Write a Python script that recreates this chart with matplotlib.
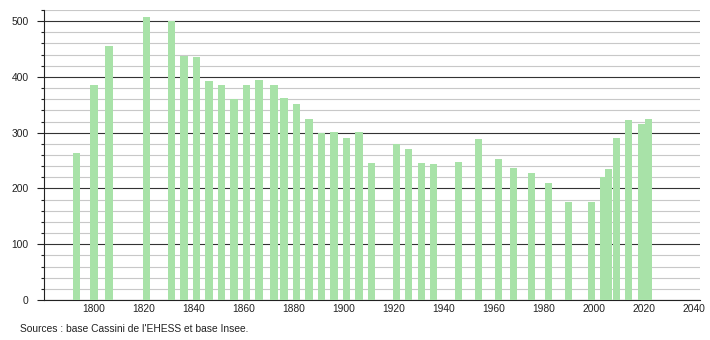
import matplotlib.pyplot as plt
from matplotlib.ticker import MultipleLocator

years = [1793, 1800, 1806, 1821, 1831, 1836, 1841, 1846, 1851, 1856,
         1861, 1866, 1872, 1876, 1881, 1886, 1891, 1896, 1901, 1906,
         1911, 1921, 1926, 1931, 1936, 1946, 1954, 1962, 1968, 1975,
         1982, 1990, 1999, 2004, 2006, 2009, 2014, 2019, 2022]
population = [264, 386, 455, 507, 500, 437, 435, 393, 386, 361,
              386, 395, 385, 363, 352, 325, 300, 302, 291, 302,
              246, 280, 270, 246, 244, 248, 288, 253, 237, 228,
              210, 176, 176, 221, 235, 291, 322, 316, 325]
x_ticks = [1800, 1820, 1840, 1860, 1880, 1900, 1920, 1940, 1960, 1980, 2000, 2020, 2040]
source_text = "Sources : base Cassini de l'EHESS et base Insee."

plt.rcParams['font.family'] = ['Liberation Sans', 'DejaVu Sans']

fig = plt.figure(figsize=(7.1, 3.4), dpi=100)
ax = fig.add_axes([44 / 710, 40 / 340, 656 / 710, 290 / 340])

ax.bar(years, population, width=2.9, color='#a8e2a8', zorder=3)

ax.set_xlim(1780, 2042.5)
ax.set_ylim(0, 520)
ax.yaxis.set_major_locator(MultipleLocator(100))
ax.yaxis.set_minor_locator(MultipleLocator(20))
ax.set_xticks(x_ticks)

ax.grid(axis='y', which='minor', color='#c8c8c8', linewidth=0.8, zorder=0)
ax.grid(axis='y', which='major', color='#333333', linewidth=0.8, zorder=1)

for side in ['top', 'right']:
    ax.spines[side].set_visible(False)
ax.spines['left'].set_color('#222222')
ax.spines['bottom'].set_color('#222222')
ax.spines['left'].set_linewidth(0.8)
ax.spines['bottom'].set_linewidth(0.8)

ax.tick_params(axis='y', which='major', length=5, width=0.8, pad=6, labelsize=7.4, colors='#222222')
ax.tick_params(axis='y', which='minor', length=2.5, width=0.8, colors='#222222')
ax.tick_params(axis='x', length=0, pad=3, labelsize=7.4, colors='#222222')

fig.text(20 / 710, 1 - 329 / 340, source_text, fontsize=7.4, color='#222222', va='center', ha='left')

fig.savefig('out.png', dpi=100)
